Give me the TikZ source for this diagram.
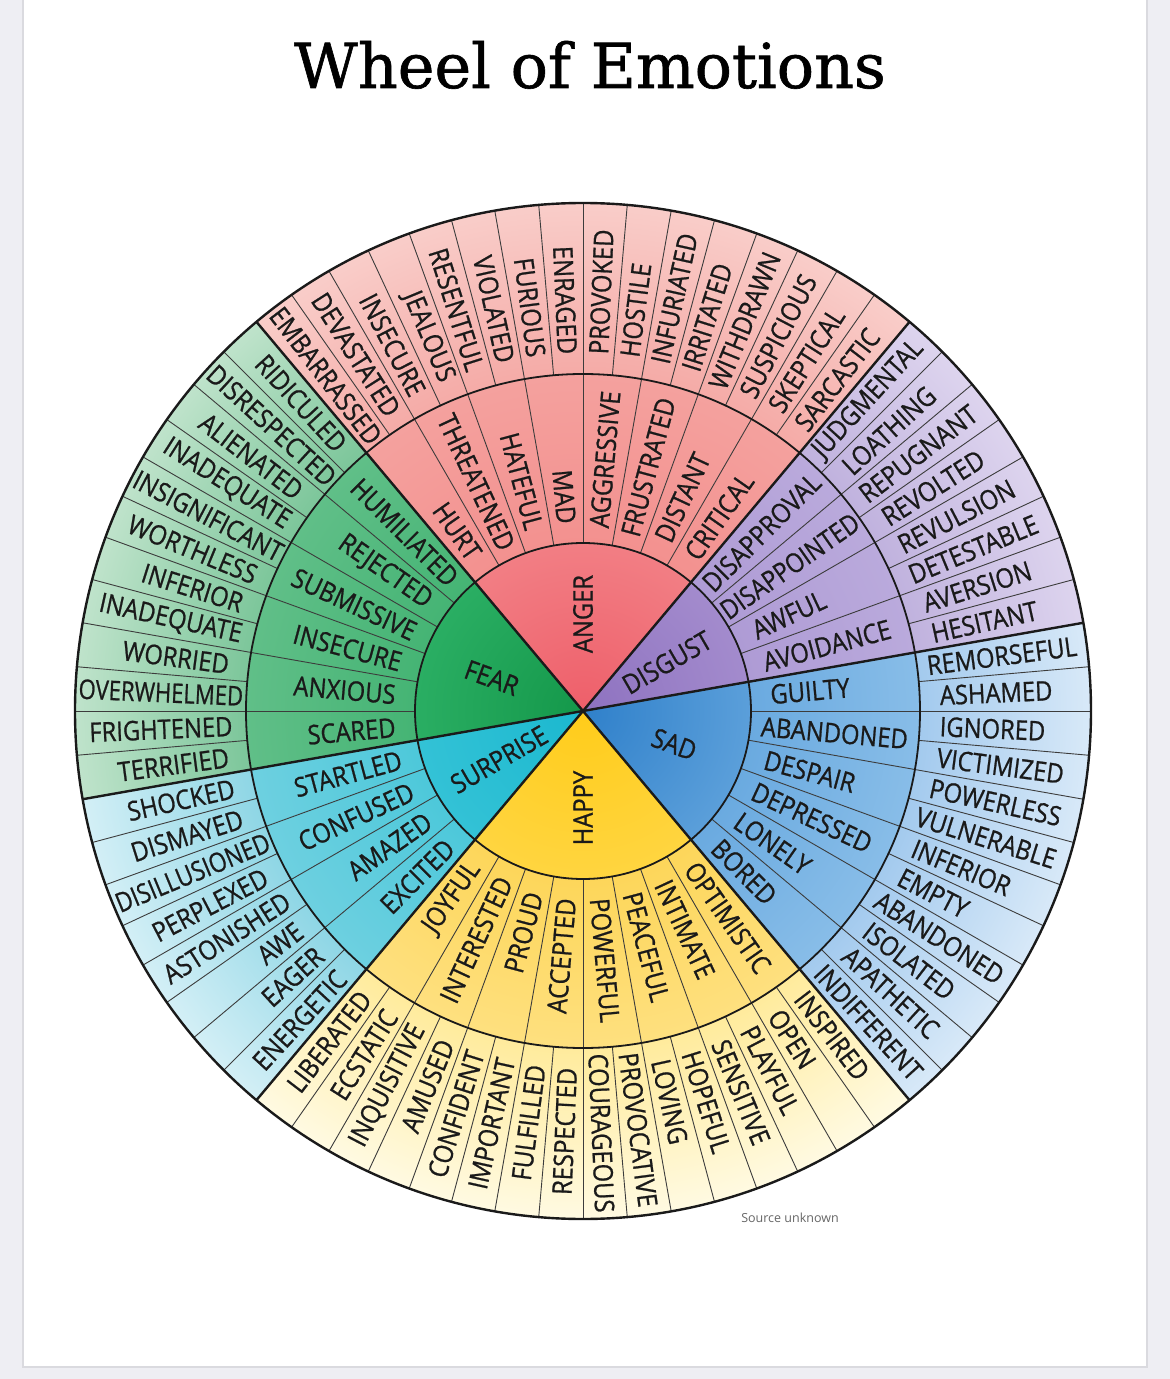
\documentclass[tikz,border=0pt]{standalone}
\usepackage{fontspec}
\setmainfont{Open Sans}
\newfontfamily\wheelfont[FakeStretch=0.88, FakeBold=0.8]{Open Sans}
\newfontfamily\titlefont[FakeBold=1]{DejaVu Serif}
\definecolor{ink}{HTML}{1A1A1A}
\definecolor{pagegrey}{HTML}{EEEEF3}
\definecolor{pageedge}{HTML}{DADADF}
% sector colours: 0 centre, 1 core edge, 2-3 middle ring, 4-5 outer ring
\definecolor{anger0}{HTML}{EE5F6A}\definecolor{anger1}{HTML}{F27E84}
\definecolor{anger2}{HTML}{F3918F}\definecolor{anger3}{HTML}{F4A19E}
\definecolor{anger4}{HTML}{F5ABA7}\definecolor{anger5}{HTML}{F9CDC9}
\definecolor{disgust0}{HTML}{8E72C0}\definecolor{disgust1}{HTML}{A38BCD}
\definecolor{disgust2}{HTML}{AE9BD5}\definecolor{disgust3}{HTML}{BAAADC}
\definecolor{disgust4}{HTML}{C0B2DE}\definecolor{disgust5}{HTML}{DDD4EE}
\definecolor{sad0}{HTML}{2F80CA}\definecolor{sad1}{HTML}{5B9FDA}
\definecolor{sad2}{HTML}{6AAAE0}\definecolor{sad3}{HTML}{88BDE8}
\definecolor{sad4}{HTML}{A3CAEE}\definecolor{sad5}{HTML}{D8E9F8}
\definecolor{happy0}{HTML}{FFCC1A}\definecolor{happy1}{HTML}{FFD540}
\definecolor{happy2}{HTML}{FDD65A}\definecolor{happy3}{HTML}{FEE07F}
\definecolor{happy4}{HTML}{FFEB9C}\definecolor{happy5}{HTML}{FFFAE2}
\definecolor{surprise0}{HTML}{1BB8CF}\definecolor{surprise1}{HTML}{33C2D6}
\definecolor{surprise2}{HTML}{4DC8DA}\definecolor{surprise3}{HTML}{6DD0E0}
\definecolor{surprise4}{HTML}{8ED6E5}\definecolor{surprise5}{HTML}{D3EFF6}
\definecolor{fear0}{HTML}{14984A}\definecolor{fear1}{HTML}{2AAE63}
\definecolor{fear2}{HTML}{45B474}\definecolor{fear3}{HTML}{60BF88}
\definecolor{fear4}{HTML}{7CC69A}\definecolor{fear5}{HTML}{BFE3CB}
\newcommand{\wheelshade}[1]{%
  \pgfdeclareradialshading{#1wheel}{\pgfpointorigin}{%
    color(0bp)=(#10); color(8.26bp)=(#11); color(8.28bp)=(#12);
    color(16.57bp)=(#13); color(16.59bp)=(#14); color(25bp)=(#15);
    color(50bp)=(#15)}}
\wheelshade{anger}\wheelshade{disgust}\wheelshade{sad}
\wheelshade{happy}\wheelshade{surprise}\wheelshade{fear}
\newcommand{\wordfont}{\wheelfont\fontsize{27}{30}\selectfont}
\newcommand{\radcore}{168}
\newcommand{\radmid}{337}
\newcommand{\radout}{508}
\newcommand{\wordgap}{20}
\newdimen\wordhalf
\tikzset{
  word/.style={font=\wordfont, text=ink, inner sep=0pt},
  spoke/.style={draw=ink, line width=2.4pt},
  ring/.style={draw=ink, line width=1.8pt},
  sep/.style={draw=ink!85, line width=0.9pt}
}
% word in a ring: kept near the inner edge, squeezed if too long,
% turned so it reads upright
\newcommand{\ringword}[5]{%
  \node[word] (ruler) at (0,0) {\phantom{#3}};%
  \pgfextractx{\wordhalf}{\pgfpointanchor{ruler}{east}}%
  \pgfmathsetmacro{\wordfit}{min(1, (#5-#4-6)/(2*\wordhalf))}%
  \pgfmathsetmacro{\wordrad}{min(#4+\wordgap+\wordfit*\wordhalf, 0.5*(#4+#5))}%
  \pgfmathsetmacro{\wordrot}{ifthenelse(and(#2>90.5,#2<269.5), #2+180,
    ifthenelse(abs(#2-270)<0.5, 90, #2))}%
  \node[word, rotate=\wordrot] (#1) at (#2:\wordrad) {\scalebox{\wordfit}[1]{#3}};}

\begin{document}
\begin{tikzpicture}[x=1pt, y=1pt]
  \useasboundingbox (-583,-668) rectangle (587,711);
  \fill[pagegrey] (-583,-668) rectangle (587,711);
  \filldraw[fill=white, draw=pageedge, line width=1.5pt] (-560,-656) rectangle (564,716);
  \node[font=\titlefont\fontsize{62}{70}\selectfont, anchor=base] (title) at (7,623) {Wheel of Emotions};

  % coloured sectors
  \foreach \s/\a/\b in {anger/50/130, disgust/10/50, sad/-50/10,
      happy/230/310, surprise/190/230, fear/130/190} {
    \begin{scope}
      \clip (0,0) -- (\a:\radout) arc[start angle=\a, end angle=\b, radius=\radout] -- cycle;
      \shade[shading=\s wheel] (0,0) circle[radius=\radout];
    \end{scope}
  }
  \foreach \t in {0,5,...,355} \draw[sep] (\t:\radmid) -- (\t:\radout);
  \foreach \t in {0,10,...,350} \draw[sep] (\t:\radcore) -- (\t:\radmid);
  \draw[ring] (0,0) circle[radius=\radcore];
  \draw[ring] (0,0) circle[radius=\radmid];
  \foreach \t in {10,50,130,190,230,310} \draw[spoke] (0,0) -- (\t:\radout);
  \draw[spoke] (0,0) circle[radius=\radout];

  % core
  \foreach \w/\n/\t in {ANGER/anger/90, DISGUST/disgust/30, SAD/sad/-20,
      HAPPY/happy/270, SURPRISE/surprise/210, FEAR/fear/160} {
    \pgfmathsetmacro{\wordrot}{ifthenelse(and(\t>90.5,\t<269.5), \t+180,
      ifthenelse(abs(\t-270)<0.5, 90, \t))}
    \node[word, rotate=\wordrot] (\n) at (\t:97) {\w};
  }
  % middle ring
  \foreach \w [count=\i from 0] in {GUILTY, AVOIDANCE, AWFUL, DISAPPOINTED,
      DISAPPROVAL, CRITICAL, DISTANT, FRUSTRATED, AGGRESSIVE, MAD, HATEFUL,
      THREATENED, HURT, HUMILIATED, REJECTED, SUBMISSIVE, INSECURE, ANXIOUS,
      SCARED, STARTLED, CONFUSED, AMAZED, EXCITED, JOYFUL, INTERESTED, PROUD,
      ACCEPTED, POWERFUL, PEACEFUL, INTIMATE, OPTIMISTIC, BORED, LONELY,
      DEPRESSED, DESPAIR, ABANDONED} {
    \pgfmathsetmacro{\wang}{5+10*\i}
    \ringword{m\i}{\wang}{\w}{\radcore}{\radmid}
  }
  % outer ring
  \foreach \w [count=\i from 0] in {ASHAMED, REMORSEFUL, HESITANT, AVERSION,
      DETESTABLE, REVULSION, REVOLTED, REPUGNANT, LOATHING, JUDGMENTAL,
      SARCASTIC, SKEPTICAL, SUSPICIOUS, WITHDRAWN, IRRITATED, INFURIATED,
      HOSTILE, PROVOKED, ENRAGED, FURIOUS, VIOLATED, RESENTFUL, JEALOUS,
      INSECURE, DEVASTATED, EMBARRASSED, RIDICULED, DISRESPECTED, ALIENATED,
      INADEQUATE, INSIGNIFICANT, WORTHLESS, INFERIOR, INADEQUATE, WORRIED,
      OVERWHELMED, FRIGHTENED, TERRIFIED, SHOCKED, DISMAYED, DISILLUSIONED,
      PERPLEXED, ASTONISHED, AWE, EAGER, ENERGETIC, LIBERATED, ECSTATIC,
      INQUISITIVE, AMUSED, CONFIDENT, IMPORTANT, FULFILLED, RESPECTED,
      COURAGEOUS, PROVOCATIVE, LOVING, HOPEFUL, SENSITIVE, PLAYFUL, OPEN,
      INSPIRED, INDIFFERENT, APATHETIC, ISOLATED, ABANDONED, EMPTY, INFERIOR,
      VULNERABLE, POWERLESS, VICTIMIZED, IGNORED} {
    \pgfmathsetmacro{\wang}{2.5+5*\i}
    \ringword{o\i}{\wang}{\w}{\radmid}{\radout}
  }
  \node[font=\fontsize{12.5}{14}\selectfont, text=black!60, anchor=base] (source) at (207,-511) {Source unknown};
\end{tikzpicture}
\end{document}
